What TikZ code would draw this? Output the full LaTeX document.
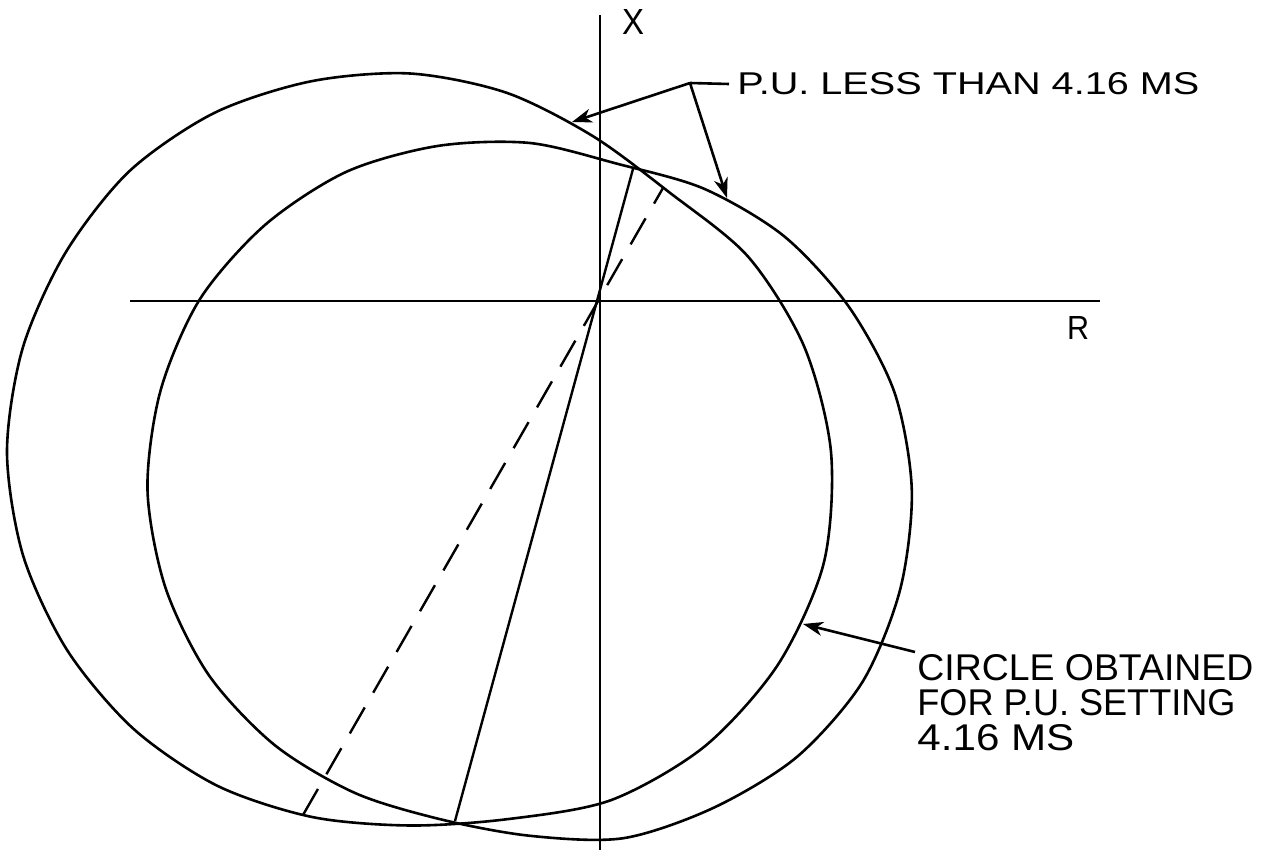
\documentclass[tikz,border=0pt]{standalone}
\usepackage{fontspec}
\setmainfont{Liberation Sans}
\usepackage{graphicx}
\usetikzlibrary{arrows.meta}
\begin{document}
\begin{tikzpicture}[x=0.5pt,y=-0.5pt,
  curve/.style={line width=1.3pt, line join=round},
  axis/.style={line width=1.3pt},
  chord/.style={line width=1.2pt},
  dashchord/.style={line width=1.2pt, dash pattern=on 15pt off 8.5pt},
  leader/.style={line width=1.3pt},
  lead/.style={line width=1.3pt, -{Stealth[length=10pt,width=7pt,inset=3pt]}},
  lbl/.style={inner sep=0pt, font=\fontsize{18}{17.5}\selectfont}
]
\useasboundingbox (0,0) rectangle (1271,850);

% axes
\coordinate (xt) at (600,15);
\coordinate (xb) at (600,850);
\coordinate (rlft) at (130,301);
\coordinate (rrgt) at (1100,301);
\draw[axis] (xt) -- (xb);
\draw[axis] (rlft) -- (rrgt);
\node[lbl] (xlab) at (633,22.5) {\resizebox{11pt}{12.5pt}{X}};
\node[lbl] (rlab) at (1078,328.5) {\resizebox{11pt}{11.5pt}{R}};

% curve P (P.U. less than 4.16 ms: outer on the left, inner on the right)
\draw[curve, shift={(410,452)}] plot[smooth cycle] coordinates {
 (0:421) (-15:408) (-30:390.5) (-45:367) (-60:365) (-75:372) (-90:378.5) (-105:383.7)
 (-120:391.5) (-135:397) (-150:398) (-165:401) (-180:403) (-195:400.5) (-210:396)
 (-225:391.3) (-240:385.4) (-255:377.9) (-270:373.5) (-285:380) (-300:402)
 (-315:416.5) (-330:425) (-345:428.4)};

% curve Q (inner on the left, outer on the right)
\draw[curve, shift={(530,490)}] plot[smooth cycle] coordinates {
 (0:381.8) (-15:377.3) (-30:367.7) (-45:359.1) (-60:347.9) (-75:337.7) (-90:347)
 (-105:356.2) (-120:367.4) (-135:374.8) (-150:381.3) (-165:382.6) (-180:382.5)
 (-195:377.4) (-210:370.7) (-225:360.9) (-240:349.9) (-255:341.2) (-270:345.8)
 (-285:360.5) (-300:367) (-315:377.5) (-330:383.9) (-345:383.3)};

% chords through the origin
\coordinate (J1) at (633,169);
\coordinate (J2) at (455,821);
\coordinate (D1) at (663,188);
\coordinate (D2) at (303,815);
\draw[chord] (J2) -- (J1);
\draw[dashchord] (D2) -- (D1);

% labels and leaders
\coordinate (K) at (690,83);
\coordinate (A1) at (572,122);
\coordinate (A2) at (727,198);
\coordinate (A3) at (803,624);
\node[lbl, anchor=west, inner xsep=4pt] (pu) at (729,84)
  {\resizebox{231pt}{11pt}{P.U. LESS THAN 4.16 MS}};
\draw[leader] (pu.west) -- (K);
\draw[lead] (K) -- (A1);
\draw[lead] (K) -- (A2);

\node[lbl, anchor=north west, align=left, inner xsep=1pt, inner ysep=1pt] (cb) at (915,652)
  {\resizebox{168pt}{13pt}{CIRCLE OBTAINED}\\
   \resizebox{159pt}{13pt}{FOR P.U. SETTING}\\
   \resizebox{78.5pt}{13pt}{4.16 MS}};
\draw[lead] (cb.north west) -- (A3);
\end{tikzpicture}
\end{document}
